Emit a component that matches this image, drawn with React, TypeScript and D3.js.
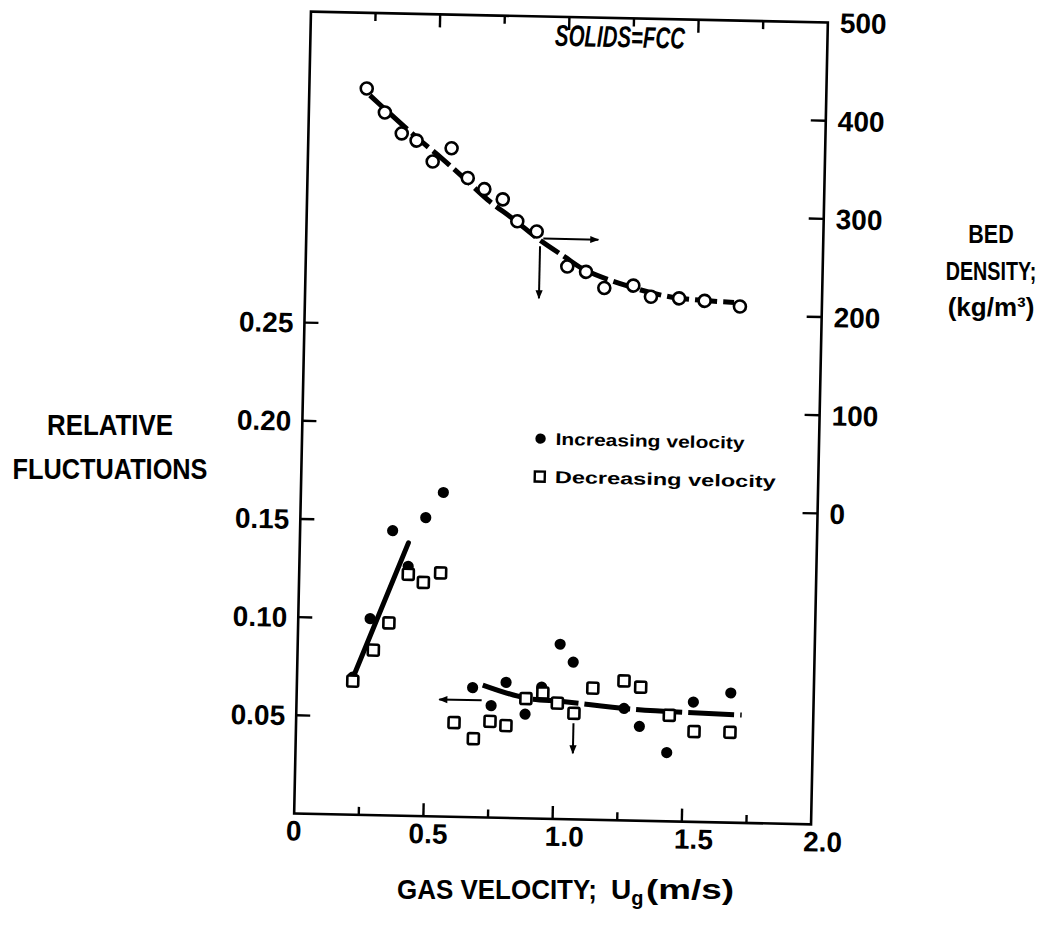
import React from "react";
import * as d3 from "d3";

const W = 1048;
const H = 938;

// ---- Bed density (open circles, right axis, kg/m3) ----
const densityVel = [0.222, 0.294, 0.361, 0.419, 0.555, 0.483, 0.62, 0.685, 0.757, 0.815, 0.891, 1.012, 1.085, 1.157, 1.269, 1.338, 1.447, 1.546, 1.683];
const densityVal = [423, 399, 378, 371, 364, 350, 334, 323, 313, 291, 281, 246, 241, 225, 228, 217, 216, 214, 209];
const densityFitVel = [0.235, 0.3, 0.42, 0.52, 0.6, 0.7, 0.8, 0.9, 1.0, 1.08, 1.24, 1.42, 1.66];
const densityFitVal = [416, 401, 374, 353, 335, 312, 293, 273, 256, 243, 228, 217, 213];

// ---- Relative fluctuations (left axis) ----
const incVel = [0.215, 0.278, 0.358, 0.421, 0.485, 0.551, 0.68, 0.753, 0.809, 0.885, 0.947, 1.015, 1.067, 1.267, 1.328, 1.436, 1.535, 1.679];
const incVal = [0.07, 0.1, 0.145, 0.127, 0.152, 0.165, 0.066, 0.057, 0.069, 0.053, 0.067, 0.089, 0.08, 0.057, 0.048, 0.035, 0.061, 0.066];
const decVel = [0.216, 0.293, 0.351, 0.422, 0.481, 0.547, 0.611, 0.687, 0.75, 0.812, 0.887, 0.952, 1.009, 1.074, 1.145, 1.265, 1.33, 1.443, 1.54, 1.679];
const decVal = [0.068, 0.084, 0.098, 0.123, 0.119, 0.124, 0.048, 0.04, 0.049, 0.047, 0.061, 0.064, 0.059, 0.054, 0.067, 0.071, 0.068, 0.054, 0.046, 0.046];
const incFitVel = [0.213, 0.42];
const incFitVal = [0.0686, 0.139];
const decFitVel = [0.719, 0.884, 1.038, 1.303, 1.723];
const decFitVal = [0.0674, 0.0613, 0.0598, 0.0567, 0.0549];

// ---- Axes ----
const xTicks = [0, 0.5, 1.0, 1.5, 2.0];
const xTickLabels = ["0", "0.5", "1.0", "1.5", "2.0"];
const xMinorTicks = [0.25, 0.75, 1.25, 1.75];
const leftTicks = [0.05, 0.1, 0.15, 0.2, 0.25];
const leftTickLabels = ["0.05", "0.10", "0.15", "0.20", "0.25"];
const rightTicks = [0, 100, 200, 300, 400, 500];
const rightTickLabels = ["0", "100", "200", "300", "400", "500"];

const legendLabels = ["Increasing velocity", "Decreasing velocity"];

const FONT = "'Liberation Sans', Arial, Helvetica, sans-serif";

export default function App() {
  const x = d3.scaleLinear().domain([0, 2]).range([302.5, 819.5]);
  const yL = d3.scaleLinear().domain([0, 0.25]).range([819, 328]);
  const yR = d3.scaleLinear().domain([0, 500]).range([508, 17]);

  const xL = x(0);
  const xRt = x(2);
  const yTop = yR(500);
  const yBot = yL(0);

  const densityLine = d3
    .line<number>()
    .x((_, i) => x(densityFitVel[i]))
    .y((d) => yR(d))
    .curve(d3.curveCatmullRom.alpha(0.5))(densityFitVal);

  const incLine = d3
    .line<number>()
    .x((_, i) => x(incFitVel[i]))
    .y((d) => yL(d))(incFitVal);

  const decLine = d3
    .line<number>()
    .x((_, i) => x(decFitVel[i]))
    .y((d) => yL(d))
    .curve(d3.curveCatmullRom.alpha(0.5))(decFitVal);

  const sq = 11;
  // visual nudge for labels whose narrow "1" glyph shifts them in the original lettering
  const xLabelDx = [0, 5, 12, 12, 12];

  return (
    <svg
      width={W}
      height={H}
      style={{ position: "absolute", left: 0, top: 0, background: "#fff" }}
      fontFamily={FONT}
    >
      <defs>
        <marker
          id="ah"
          viewBox="0 0 10 10"
          refX="9"
          refY="5"
          markerWidth="11"
          markerHeight="9"
          markerUnits="userSpaceOnUse"
          orient="auto"
        >
          <path d="M0,1 L10,5 L0,9 z" fill="#000" />
        </marker>
      </defs>
      <rect x={0} y={0} width={W} height={H} fill="#fff" />

      <g transform="rotate(1.2, 561, 418)">
        {/* frame */}
        <rect x={xL} y={yTop} width={xRt - xL} height={yBot - yTop} fill="none" stroke="#000" strokeWidth={2.6} />

        {/* top & bottom ticks */}
        {xTicks.slice(1, -1).map((t) => (
          <g key={"xt" + t}>
            <line x1={x(t)} x2={x(t)} y1={yBot} y2={yBot - 13} stroke="#000" strokeWidth={2.4} />
            <line x1={x(t)} x2={x(t)} y1={yTop} y2={yTop + 13} stroke="#000" strokeWidth={2.4} />
          </g>
        ))}
        {xMinorTicks.map((t) => (
          <g key={"xm" + t}>
            <line x1={x(t)} x2={x(t)} y1={yBot} y2={yBot - 8} stroke="#000" strokeWidth={2.4} />
            <line x1={x(t)} x2={x(t)} y1={yTop} y2={yTop + 8} stroke="#000" strokeWidth={2.4} />
          </g>
        ))}
        {xTicks.map((t, i) => (
          <text key={"xl" + t} x={x(t) + xLabelDx[i]} y={yBot + 27} textAnchor="middle" fontSize={28} fontWeight="bold">
            {xTickLabels[i]}
          </text>
        ))}

        {/* left ticks */}
        {leftTicks.map((t, i) => (
          <g key={"lt" + t}>
            <line x1={xL} x2={xL + 14} y1={yL(t)} y2={yL(t)} stroke="#000" strokeWidth={2.4} />
            <text x={xL - 11} y={yL(t) + 10} textAnchor="end" fontSize={28} fontWeight="bold">
              {leftTickLabels[i]}
            </text>
          </g>
        ))}

        {/* right ticks */}
        {rightTicks.map((t, i) => (
          <g key={"rt" + t}>
            {t < 500 && <line x1={xRt - 15} x2={xRt} y1={yR(t)} y2={yR(t)} stroke="#000" strokeWidth={2.4} />}
            <text x={xRt + 12} y={yR(t) + 10} textAnchor="start" fontSize={28} fontWeight="bold">
              {rightTickLabels[i]}
            </text>
          </g>
        ))}

        {/* annotation */}
        <text
          x={612}
          y={46}
          textAnchor="middle"
          fontSize={30}
          fontWeight="bold"
          fontStyle="italic"
          textLength={130}
          lengthAdjust="spacingAndGlyphs"
        >
          SOLIDS=FCC
        </text>

        {/* fitted lines */}
        <path d={densityLine || ""} fill="none" stroke="#000" strokeWidth={5} strokeDasharray="22 6" />
        <path d={incLine || ""} fill="none" stroke="#000" strokeWidth={5} strokeLinecap="round" />
        <path d={decLine || ""} fill="none" stroke="#000" strokeWidth={5} strokeDasharray="46 6" />

        {/* arrows */}
        <line x1={x(0.917)} x2={x(1.13)} y1={yR(274)} y2={yR(274)} stroke="#000" strokeWidth={2} markerEnd="url(#ah)" />
        <line x1={x(0.905)} x2={x(0.905)} y1={yR(266)} y2={yR(213)} stroke="#000" strokeWidth={2} markerEnd="url(#ah)" />
        <line x1={x(0.716)} x2={x(0.552)} y1={yL(0.0596)} y2={yL(0.0596)} stroke="#000" strokeWidth={2} markerEnd="url(#ah)" />
        <line x1={x(1.073)} x2={x(1.073)} y1={yL(0.0489)} y2={yL(0.0336)} stroke="#000" strokeWidth={2} markerEnd="url(#ah)" />

        {/* density circles */}
        {densityVal.map((d, i) => (
          <circle key={"dc" + i} cx={x(densityVel[i])} cy={yR(d)} r={6} fill="#fff" stroke="#000" strokeWidth={2.6} />
        ))}

        {/* increasing velocity: filled circles */}
        {incVal.map((d, i) => (
          <circle key={"ic" + i} cx={x(incVel[i])} cy={yL(d)} r={5.6} fill="#000" />
        ))}

        {/* decreasing velocity: open squares */}
        {decVal.map((d, i) => (
          <rect
            key={"ds" + i}
            x={x(decVel[i]) - sq / 2}
            y={yL(d) - sq / 2}
            width={sq}
            height={sq}
            rx={1.5}
            fill="#fff"
            stroke="#000"
            strokeWidth={2.6}
          />
        ))}

        {/* legend */}
        <circle cx={541} cy={439} r={5.2} fill="#000" />
        <text x={556} y={445} fontSize={17} fontWeight="bold" textLength={189} lengthAdjust="spacingAndGlyphs">
          {legendLabels[0]}
        </text>
        <rect x={541 - 5} y={477 - 5} width={10} height={10} fill="#fff" stroke="#000" strokeWidth={2.4} />
        <text x={556} y={483} fontSize={17} fontWeight="bold" textLength={221} lengthAdjust="spacingAndGlyphs">
          {legendLabels[1]}
        </text>
      </g>

      {/* axis titles (outside rotation) */}
      <text x={110} y={435} textAnchor="middle" fontSize={29} fontWeight="bold" textLength={126} lengthAdjust="spacingAndGlyphs">
        RELATIVE
      </text>
      <text x={110} y={479} textAnchor="middle" fontSize={29} fontWeight="bold" textLength={195} lengthAdjust="spacingAndGlyphs">
        FLUCTUATIONS
      </text>
      <text transform="translate(991,243) scale(0.86,1)" textAnchor="middle" fontSize={25} fontWeight="bold">
        BED
      </text>
      <text transform="translate(991,280) scale(0.79,1)" textAnchor="middle" fontSize={25} fontWeight="bold">
        DENSITY;
      </text>
      <text transform="translate(991,316) scale(1.04,1)" textAnchor="middle" fontSize={25} fontWeight="bold">
        (kg/m³)
      </text>
      <text x={397} y={899} fontSize={28} fontWeight="bold">
        <tspan textLength={200} lengthAdjust="spacingAndGlyphs">GAS  VELOCITY;</tspan>
        <tspan x={611}>U</tspan>
        <tspan dy={6} fontSize={20}>g</tspan>
        <tspan dy={-6} x={646} textLength={88} lengthAdjust="spacingAndGlyphs">(m/s)</tspan>
      </text>
    </svg>
  );
}
